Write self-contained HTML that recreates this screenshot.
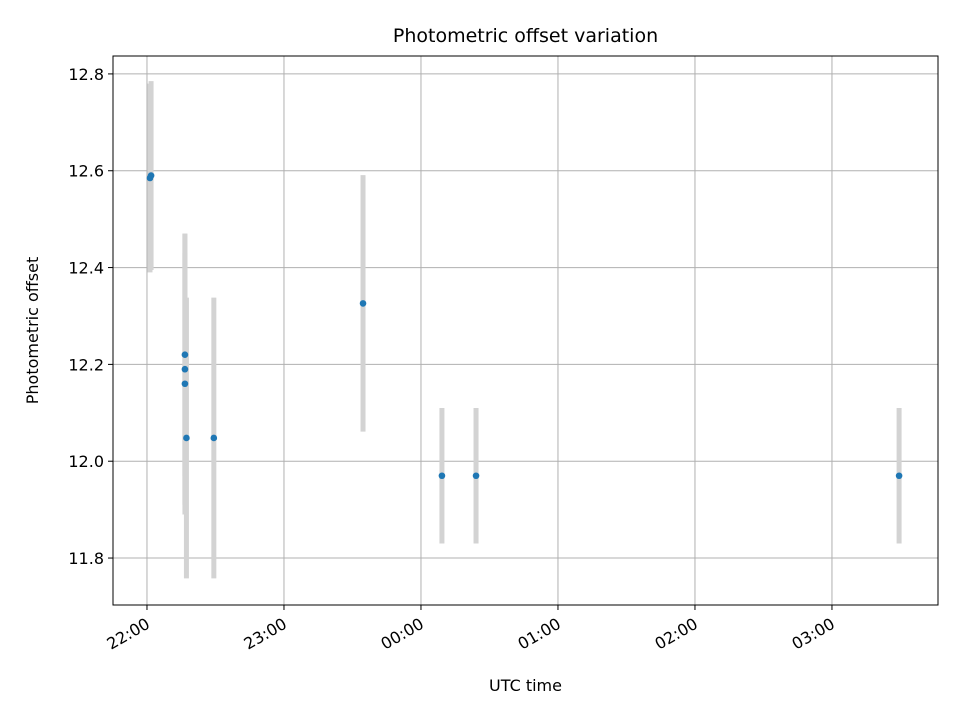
<!DOCTYPE html>
<html><head><meta charset="utf-8"><style>
body{margin:0;background:#fff;font-family:"Liberation Sans","DejaVu Sans",sans-serif}
</style></head><body>
<svg id="chart" width="960" height="720" xmlns="http://www.w3.org/2000/svg" font-family="DejaVu Sans, Liberation Sans, sans-serif"></svg>
<script>
// hours after 22:00 UTC
const times=[0.022,0.03,0.277,0.277,0.277,0.288,0.488,1.577,2.153,2.402,5.49];
const values=[12.585,12.59,12.22,12.19,12.16,12.048,12.048,12.326,11.97,11.97,11.97];
const errors=[0.195,0.195,0.25,0.28,0.27,0.29,0.29,0.265,0.14,0.14,0.14];
const xTicks=[0,1,2,3,4,5];
const xTickLabels=["22:00","23:00","00:00","01:00","02:00","03:00"];
const yTicks=[11.8,12.0,12.2,12.4,12.6,12.8];
const L=113,R=938,T=56,B=605;
const xMin=-0.248,xMax=5.774,yMin=11.703,yMax=12.837;
const X=v=>L+(v-xMin)/(xMax-xMin)*(R-L);
const Y=v=>B-(v-yMin)/(yMax-yMin)*(B-T);
const svg=document.getElementById('chart');
const NS='http://www.w3.org/2000/svg';
function mk(t,a,txt){const e=document.createElementNS(NS,t);for(const k in a)e.setAttribute(k,a[k]);if(txt!==undefined)e.textContent=txt;svg.appendChild(e);return e;}
xTicks.forEach((t,i)=>{const x=X(t);
 let g=mk('line',{x1:x,x2:x,y1:T,y2:B,stroke:'#b0b0b0','stroke-width':1});
 
 let k=mk('line',{x1:x,x2:x,y1:B,y2:B+5,stroke:'#000'});
 
 let ax=x+4,ay=B+22;
 let lb=mk('text',{x:ax,y:ay,'font-size':16,'text-anchor':'end',transform:`rotate(-30 ${ax} ${ay})`},xTickLabels[i]);
 
});
yTicks.forEach(t=>{const y=Y(t);
 let g=mk('line',{x1:L,x2:R,y1:y,y2:y,stroke:'#b0b0b0','stroke-width':1});
 
 let k=mk('line',{x1:L-5,x2:L,y1:y,y2:y,stroke:'#000'});
 
 let lb=mk('text',{x:L-9,y:y+6,'font-size':16,'text-anchor':'end'},t.toFixed(1));
 
});
times.forEach((t,i)=>{
 let e=mk('line',{x1:X(t),x2:X(t),y1:Y(values[i]-errors[i]),y2:Y(values[i]+errors[i]),stroke:'#d3d3d3','stroke-width':5});
 
});
times.forEach((t,i)=>{
 let p=mk('circle',{cx:X(t),cy:Y(values[i]),r:3.3,fill:'#1f77b4'});
 
});
let fr=mk('rect',{x:L,y:T,width:R-L,height:B-T,fill:'none',stroke:'#000','stroke-width':1});

let ti=mk('text',{x:(L+R)/2,y:42,'font-size':19,'text-anchor':'middle'},'Photometric offset variation');

let xt=mk('text',{x:(L+R)/2,y:691,'font-size':16,'text-anchor':'middle'},'UTC time');

let yt=mk('text',{x:38,y:(T+B)/2,'font-size':16,'text-anchor':'middle',transform:`rotate(-90 38 ${(T+B)/2})`},'Photometric offset');

</script>
</body></html>
